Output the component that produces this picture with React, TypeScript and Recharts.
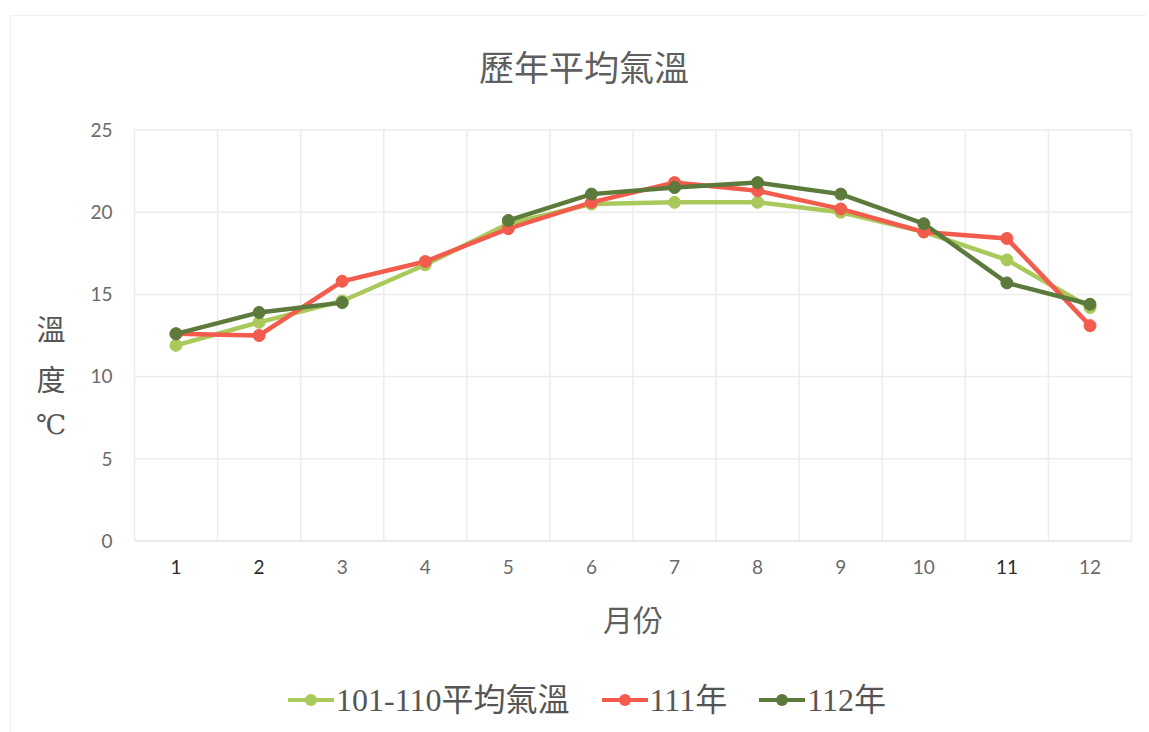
import React from 'react'
import { LineChart, Line, XAxis, YAxis, CartesianGrid } from 'recharts'

const months = ['1', '2', '3', '4', '5', '6', '7', '8', '9', '10', '11', '12']
const avg101to110 = [11.9, 13.3, 14.6, 16.8, 19.3, 20.5, 20.6, 20.6, 20.0, 18.8, 17.1, 14.2]
const year111 = [12.6, 12.5, 15.8, 17.0, 19.0, 20.6, 21.8, 21.3, 20.2, 18.8, 18.4, 13.1]
// month 4 missing for 112
const year112 = [12.6, 13.9, 14.5, null, 19.5, 21.1, 21.5, 21.8, 21.1, 19.3, 15.7, 14.4]
const yTicks = [0, 5, 10, 15, 20, 25]

const data = months.map((m, i) => ({
  month: m,
  avg: avg101to110[i],
  y111: year111[i],
  y112: year112[i],
}))

const series = [
  { key: 'avg', name: '101-110平均氣溫', color: '#a9c95a' },
  { key: 'y111', name: '111年', color: '#f35b4c' },
  { key: 'y112', name: '112年', color: '#5b7a3b' },
]

const SANS = "Lato, 'Noto Sans CJK TC', sans-serif"
const SERIF = "'Liberation Serif', 'Noto Sans CJK TC', serif"
const darkTicks = ['1', '2', '11']

const MonthTick = (props: any) => {
  const { x, y, payload } = props
  const fill = darkTicks.includes(payload.value) ? '#2b2b2b' : '#6a6a6a'
  return (
    <text x={x} y={y} dy="0.71em" textAnchor="middle" fill={fill} fontSize={19} fontFamily={SANS}>
      {payload.value}
    </text>
  )
}

const ChartLegend = () => (
  <div
    style={{
      position: 'absolute', left: 0, width: 1174, top: 681,
      display: 'flex', justifyContent: 'center', alignItems: 'center', gap: 32,
      fontFamily: SERIF, fontSize: 32, color: '#555', lineHeight: '38px',
    }}
  >
    {series.map((s) => (
      <div key={s.key} style={{ display: 'flex', alignItems: 'center' }}>
        <svg width={46} height={14} style={{ marginRight: 2 }}>
          <line x1={0} y1={7} x2={46} y2={7} stroke={s.color} strokeWidth={4} />
          <circle cx={23} cy={7} r={6} fill={s.color} />
        </svg>
        <span>{s.name}</span>
      </div>
    ))}
  </div>
)

export default function App() {
  // vertical grid sits between categories, 12 bands across the plot
  const bandLines = ({ offset }: any) =>
    Array.from({ length: months.length + 1 }, (_, i) => offset.left + (i * offset.width) / months.length)

  return (
    <div style={{ position: 'absolute', left: 0, top: 0, width: 1149, height: 732, background: '#fff', overflow: 'hidden' }}>
      <div style={{ position: 'absolute', left: 10, top: 15, width: 1135, height: 730, borderTop: '1px solid #efefef', borderLeft: '1px solid #efefef' }} />
      <div style={{ position: 'absolute', left: 0, width: 1168, top: 40, textAlign: 'center', fontFamily: SANS, fontSize: 35, color: '#5f5f5f' }}>
        歷年平均氣溫
      </div>
      <div style={{ position: 'absolute', left: 34, top: 306, fontFamily: SERIF, fontSize: 29, color: '#555', lineHeight: '50px', textAlign: 'center', width: 34 }}>
        <div>溫</div>
        <div>度</div>
        <div style={{ marginTop: -6, fontFamily: "'DejaVu Serif', serif", fontSize: 27 }}>℃</div>
      </div>
      <div style={{ position: 'absolute', left: 0, width: 1266, top: 596, textAlign: 'center', fontFamily: SANS, fontSize: 30, color: '#5f5f5f' }}>
        月份
      </div>
      <LineChart
        width={1149}
        height={732}
        data={data}
        margin={{ top: 130, right: 17.5, left: 54.5, bottom: 0 }}
        style={{ position: 'absolute', left: 0, top: 0 }}
      >
        <CartesianGrid stroke="#ececec" strokeWidth={1.5} verticalCoordinatesGenerator={bandLines} />
        <XAxis
          dataKey="month"
          height={191}
          padding={{ left: 41.5, right: 41.5 }}
          axisLine={{ stroke: '#e4e4e4' }}
          tickLine={false}
          tickSize={0}
          tickMargin={20}
          tick={<MonthTick />}
          interval={0}
        />
        <YAxis
          domain={[0, 25]}
          ticks={yTicks}
          width={80}
          axisLine={false}
          tickLine={false}
          tickSize={0}
          tickMargin={22}
          tick={{ fill: '#6a6a6a', fontSize: 19, fontFamily: SANS }}
        />
        {series.map((s) => (
          <Line
            key={s.key}
            dataKey={s.key}
            name={s.name}
            stroke={s.color}
            strokeWidth={4.5}
            dot={{ r: 6, fill: s.color, stroke: s.color, strokeWidth: 1 }}
            isAnimationActive={false}
          />
        ))}
      </LineChart>
      <ChartLegend />
    </div>
  )
}
